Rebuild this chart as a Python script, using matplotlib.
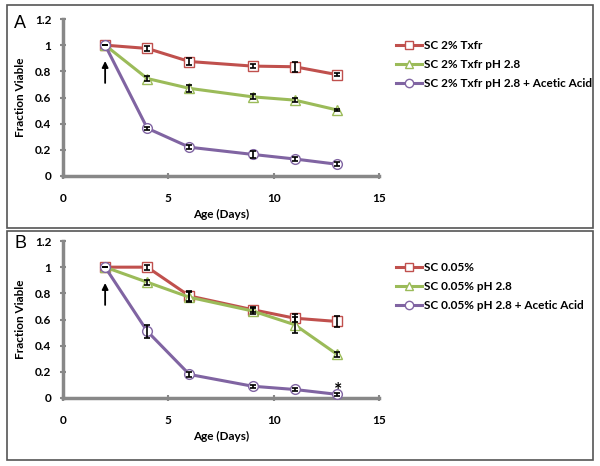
import matplotlib
matplotlib.use("Agg")
import matplotlib.pyplot as plt
from matplotlib.patches import Rectangle

plt.rcParams['font.family'] = ['Lato', 'DejaVu Sans']

days = [2, 4, 6, 9, 11, 13]

a_labels = ["SC 2% Txfr", "SC 2% Txfr pH 2.8", "SC 2% Txfr pH 2.8 + Acetic Acid"]
a_red = [1.0, 0.975, 0.875, 0.84, 0.835, 0.775]
a_red_err = [0.0, 0.02, 0.03, 0.015, 0.04, 0.01]
a_green = [1.0, 0.745, 0.67, 0.605, 0.58, 0.505]
a_green_err = [0.0, 0.02, 0.025, 0.02, 0.015, 0.01]
a_purple = [1.0, 0.365, 0.22, 0.165, 0.13, 0.09]
a_purple_err = [0.0, 0.01, 0.015, 0.025, 0.015, 0.015]

b_labels = ["SC 0.05%", "SC 0.05% pH 2.8", "SC 0.05% pH 2.8 + Acetic Acid"]
b_red = [1.0, 1.0, 0.78, 0.675, 0.61, 0.585]
b_red_err = [0.0, 0.02, 0.04, 0.02, 0.03, 0.04]
b_green = [1.0, 0.885, 0.77, 0.665, 0.56, 0.335]
b_green_err = [0.0, 0.02, 0.04, 0.02, 0.06, 0.02]
b_purple = [1.0, 0.51, 0.18, 0.09, 0.065, 0.028]
b_purple_err = [0.0, 0.05, 0.02, 0.01, 0.01, 0.01]

xticks = [0, 5, 10, 15]
yticks = [0, 0.2, 0.4, 0.6, 0.8, 1.0, 1.2]
ytick_labels = ["0", "0.2", "0.4", "0.6", "0.8", "1", "1.2"]

colors = ["#C0504D", "#9BBB59", "#8064A2"]
markers = ["s", "^", "o"]

W, H = 600, 466
fig = plt.figure(figsize=(6, 4.66), dpi=100)

def px_axes(left, top, right, bottom):
    return fig.add_axes([left / W, (H - bottom) / H, (right - left) / W, (bottom - top) / H])

# panel borders
for (x0, y0, x1, y1) in [(7, 5, 593, 228), (7, 231, 593, 460)]:
    fig.patches.append(Rectangle((x0 / W, (H - y1) / H), (x1 - x0) / W, (y1 - y0) / H,
                                 transform=fig.transFigure, fill=False,
                                 edgecolor="#555555", linewidth=1.2))

def draw_panel(ax, series, errs, labels, letter, letter_xy, legend_y, star=False):
    for vals, err, c, m, lab in zip(series, errs, colors, markers, labels):
        ax.plot(days, vals, color=c, lw=2.2, marker=m, markersize=7,
                markerfacecolor="white", markeredgecolor=c, markeredgewidth=1.0,
                label=lab, zorder=3, clip_on=False)
        ax.errorbar(days, vals, yerr=err, fmt="none", ecolor="black",
                    elinewidth=1.2, capsize=2, capthick=1.2, zorder=4, clip_on=False)
    ax.set_xlim(0, 15)
    ax.set_ylim(0, 1.2)
    ax.set_xticks(xticks)
    ax.set_yticks(yticks)
    ax.set_yticklabels(ytick_labels)
    for s in ["top", "right"]:
        ax.spines[s].set_visible(False)
    for s in ["left", "bottom"]:
        ax.spines[s].set_color("#888888")
        ax.spines[s].set_linewidth(2.5)
    ax.tick_params(axis="both", direction="inout", length=5, width=1.5, color="#888888",
                   labelsize=8.5, labelcolor="black")
    ax.tick_params(axis="x", pad=10)
    ax.tick_params(axis="y", pad=6)
    for t in ax.get_xticklabels() + ax.get_yticklabels():
        t.set_fontweight("bold")
    ax.set_xlabel("Age (Days)", fontsize=8.5, fontweight="bold", labelpad=3)
    ax.set_ylabel("Fraction Viable", fontsize=8.5, fontweight="bold", labelpad=6)
    ax.annotate("", xy=(2, 0.90), xytext=(2, 0.69),
                arrowprops=dict(arrowstyle="-|>", color="black", lw=1.3, mutation_scale=9))
    fig.text(letter_xy[0] / W, (H - letter_xy[1]) / H, letter, fontsize=13,
             family=["Liberation Sans", "DejaVu Sans"], va="center", ha="center")
    if star:
        ax.text(13.05, -0.005, "*", fontsize=14, fontweight="bold", ha="center", va="bottom")
    leg = ax.legend(loc="center left", bbox_to_anchor=(1.04, legend_y), frameon=False,
                    prop={"size": 8.5, "weight": "bold"}, handlelength=2.2,
                    handletextpad=0.1, labelspacing=0.7, borderaxespad=0)
    for h in leg.legend_handles:
        h.set_markersize(6)

axA = px_axes(63, 19, 379, 176)
draw_panel(axA, [a_red, a_green, a_purple], [a_red_err, a_green_err, a_purple_err],
           a_labels, "A", (20, 23), 0.71)

axB = px_axes(63, 241, 379, 398)
draw_panel(axB, [b_red, b_green, b_purple], [b_red_err, b_green_err, b_purple_err],
           b_labels, "B", (20, 243), 0.71, star=True)

fig.savefig("out.png", dpi=100)
